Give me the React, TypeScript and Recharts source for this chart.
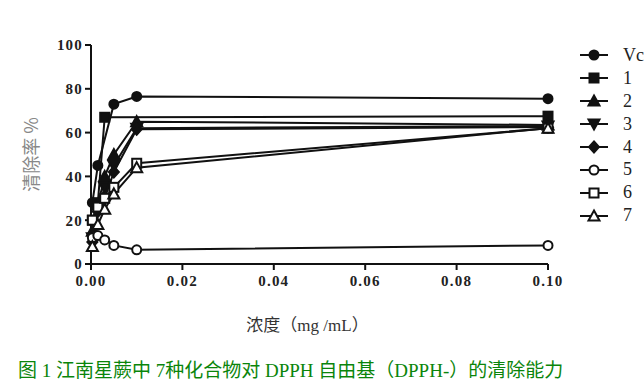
import { LineChart, Line, XAxis, YAxis } from 'recharts'

// concentrations (mg/mL)
const conc = [0.0003, 0.0015, 0.003, 0.005, 0.01, 0.1]

// scavenging rate (%) per series, null = no point at that concentration
const vc = [28, 45, null, 73, 76.5, 75.5]
const c1 = [20, 28, 67, null, null, 67.5]
const c2 = [15, 27, 40, 50, 65, 63.5]
const c3 = [12, 25, 35, 45, 62, 63]
const c4 = [10, 24, 30, 42, 61.5, 62.5]
const c5 = [12, 13, 11, 8.5, 6.5, 8.5]
const c6 = [20, 26, 30, 35, 46, 62]
const c7 = [8, 18, 25, 32, 44, 62]

const xTicks = [0, 0.02, 0.04, 0.06, 0.08, 0.1]
const yTicks = [0, 20, 40, 60, 80, 100]

type Shape = 'circle' | 'square' | 'triangle' | 'triangleDown' | 'diamond'

const series: { key: string; name: string; shape: Shape; filled: boolean }[] = [
  { key: 'vc', name: 'Vc', shape: 'circle', filled: true },
  { key: 'c1', name: '1', shape: 'square', filled: true },
  { key: 'c2', name: '2', shape: 'triangle', filled: true },
  { key: 'c3', name: '3', shape: 'triangleDown', filled: true },
  { key: 'c4', name: '4', shape: 'diamond', filled: true },
  { key: 'c5', name: '5', shape: 'circle', filled: false },
  { key: 'c6', name: '6', shape: 'square', filled: false },
  { key: 'c7', name: '7', shape: 'triangle', filled: false },
]

const data = conc.map((x, i) => ({
  x,
  vc: vc[i],
  c1: c1[i],
  c2: c2[i],
  c3: c3[i],
  c4: c4[i],
  c5: c5[i],
  c6: c6[i],
  c7: c7[i],
}))

function Marker({ cx, cy, shape, filled }: { cx: number; cy: number; shape: Shape; filled: boolean }) {
  const fill = filled ? '#111' : '#fff'
  const common = { fill, stroke: '#111', strokeWidth: 2 }
  if (shape === 'circle') return <circle cx={cx} cy={cy} r={4.5} {...common} />
  if (shape === 'square') return <rect x={cx - 4.5} y={cy - 4.5} width={9} height={9} {...common} />
  if (shape === 'triangle')
    return <polygon points={`${cx},${cy - 5.5} ${cx + 5.5},${cy + 4.5} ${cx - 5.5},${cy + 4.5}`} {...common} />
  if (shape === 'triangleDown')
    return <polygon points={`${cx},${cy + 5.5} ${cx + 5.5},${cy - 4.5} ${cx - 5.5},${cy - 4.5}`} {...common} />
  return <polygon points={`${cx},${cy - 5.5} ${cx + 5},${cy} ${cx},${cy + 5.5} ${cx - 5},${cy}`} {...common} />
}

const tickStyle = { fontFamily: '"Liberation Serif", serif', fontWeight: 700, fontSize: 15, fill: '#222', letterSpacing: 1.2 }

export default function App() {
  return (
    <div style={{ position: 'absolute', left: 0, top: 0, width: 644, height: 382, background: '#fff', overflow: 'hidden' }}>
      <LineChart width={644} height={340} data={data} margin={{ top: 45, right: 96, left: 0, bottom: 0 }}>
        <XAxis
          dataKey="x"
          type="number"
          domain={[0, 0.1]}
          ticks={xTicks}
          tickFormatter={(v: number) => v.toFixed(2)}
          height={76}
          stroke="#111"
          strokeWidth={2}
          tickSize={6}
          tick={{ ...tickStyle, dy: 3 }}
          label={{
            value: '浓度（mg /mL）',
            position: 'insideBottom',
            offset: 9,
            dx: -12,
            style: { fontFamily: '"Liberation Serif", "Noto Sans CJK SC", serif', fontSize: 17, fill: '#333' },
          }}
        />
        <YAxis
          domain={[0, 100]}
          ticks={yTicks}
          width={91}
          stroke="#111"
          strokeWidth={2}
          tickSize={6}
          tick={tickStyle}
          label={{
            value: '清除率 %',
            angle: -90,
            position: 'insideLeft',
            offset: 32,
            style: { fontFamily: '"Noto Sans CJK SC", serif', fontSize: 18, fill: '#888', textAnchor: 'middle' },
          }}
        />
        {series.map((s) => (
          <Line
            key={s.key}
            dataKey={s.key}
            name={s.name}
            type="linear"
            stroke="#111"
            strokeWidth={2}
            connectNulls
            isAnimationActive={false}
            dot={(p: any) =>
              p.cy == null ? (
                <g key={`${s.key}-${p.index}`} />
              ) : (
                <Marker key={`${s.key}-${p.index}`} cx={p.cx} cy={p.cy} shape={s.shape} filled={s.filled} />
              )
            }
          />
        ))}
      </LineChart>

      <div style={{ position: 'absolute', left: 578, top: 44 }}>
        {series.map((s) => (
          <div key={s.key} style={{ display: 'flex', alignItems: 'center', height: 22.9 }}>
            <svg width={34} height={20}>
              <line x1={2} y1={10} x2={30} y2={10} stroke="#111" strokeWidth={2} />
              <Marker cx={16} cy={10} shape={s.shape} filled={s.filled} />
            </svg>
            <span
              style={{ marginLeft: 11, fontFamily: '"Liberation Serif", serif', fontSize: 18, color: '#222', whiteSpace: 'nowrap' }}
            >
              {s.name}
            </span>
          </div>
        ))}
      </div>

      <div
        style={{
          position: 'absolute',
          left: 18,
          top: 355,
          fontFamily: '"Liberation Serif", "Noto Sans CJK SC", serif',
          fontSize: 19,
          color: '#0a850a',
          whiteSpace: 'nowrap',
        }}
      >
        图 1 江南星蕨中 7种化合物对 DPPH 自由基（DPPH-）的清除能力
      </div>
    </div>
  )
}
